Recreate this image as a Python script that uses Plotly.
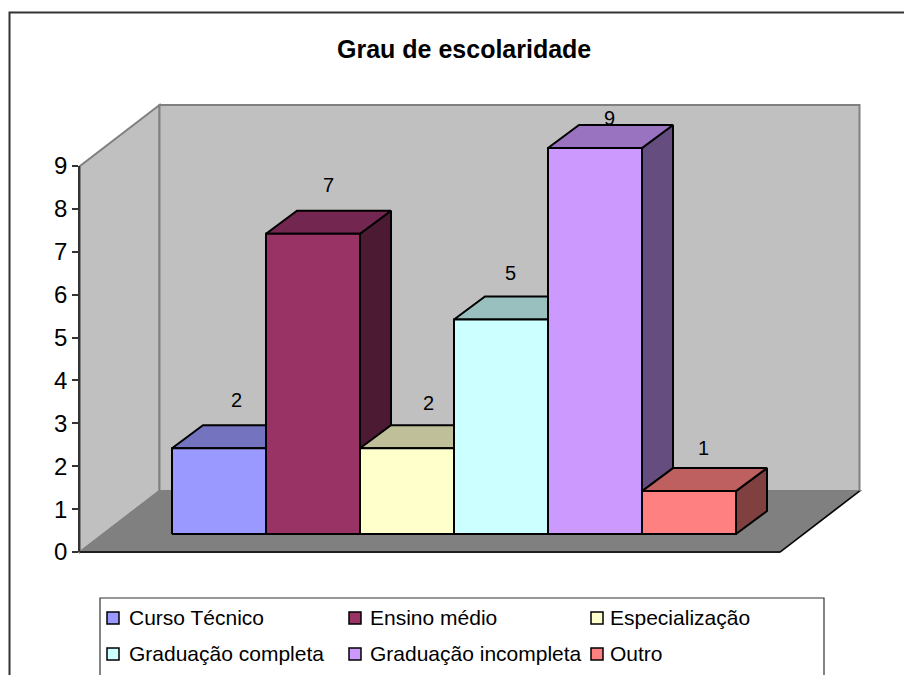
import plotly.graph_objects as go

categories = ["Curso Técnico", "Ensino médio", "Especialização",
              "Graduação completa", "Graduação incompleta", "Outro"]
values = [2, 7, 2, 5, 9, 1]
front_colors = ["#9999FF", "#993366", "#FFFFCC", "#CCFFFF", "#CC99FF", "#FF8080"]
top_colors = ["#7373BF", "#732650", "#BFBF99", "#99BFBF", "#9973BF", "#BF6060"]
side_colors = ["#4D4D80", "#4D1A33", "#80806A", "#668080", "#664D80", "#804040"]
y_ticks = [0, 1, 2, 3, 4, 5, 6, 7, 8, 9]
title_text = "Grau de escolaridade"

W, H = 904, 675
PX_X = 94.0          # pixels per category
PX_Y = 42.89         # pixels per value unit
ZERO_PX = 552.0      # page row of value 0
FIRST_PX = 219.0     # page column of first category centre


def cx(px):
    return (px - FIRST_PX) / PX_X


def vy(py):
    return (ZERO_PX - py) / PX_Y


BASE = 18 / PX_Y     # bars stand in from the floor's front edge
BAR_DX, BAR_DY = 31 / PX_X, 23 / PX_Y
WALL_DX, WALL_DY = 79.5 / PX_X, 61 / PX_Y
FLOOR_L, FLOOR_R = cx(80), cx(780)
TOP = max(y_ticks)
LABEL_SHIFT_X = [17, 15, 21, 9, 14, 14]    # label offset from bar centre, px
LABEL_SHIFT_Y = [48, 49, 45, 47, 30, 43]   # label offset above bar top, px


def poly(pts):
    return "M" + " L".join(f"{x},{y}" for x, y in pts) + " Z"


def wall(pts, fill, line):
    return dict(type="path", path=poly(pts), xref="x", yref="y", layer="below",
                fillcolor=fill, line=dict(color=line, width=2))


shapes = [
    # chart area frame (its right and bottom sides lie beyond the page)
    dict(type="rect", xref="x", yref="y", x0=cx(9.5), x1=cx(950), y0=vy(720), y1=vy(12.5),
         line=dict(color="#333333", width=2), fillcolor="white", layer="below"),
    # left wall, back wall, floor
    wall([(FLOOR_L, 0), (FLOOR_L, TOP), (FLOOR_L + WALL_DX, TOP + WALL_DY), (FLOOR_L + WALL_DX, WALL_DY)],
         "#C0C0C0", "#808080"),
    wall([(FLOOR_L + WALL_DX, WALL_DY), (FLOOR_L + WALL_DX, TOP + WALL_DY),
          (FLOOR_R + WALL_DX, TOP + WALL_DY), (FLOOR_R + WALL_DX, WALL_DY)], "#C0C0C0", "#808080"),
    wall([(FLOOR_L, 0), (FLOOR_R, 0), (FLOOR_R + WALL_DX, WALL_DY), (FLOOR_L + WALL_DX, WALL_DY)],
         "#808080", "#808080"),
    dict(type="line", xref="x", yref="y", x0=FLOOR_L, y0=0, x1=FLOOR_R, y1=0,
         line=dict(color="#000000", width=1.5)),
    dict(type="line", xref="x", yref="y", x0=FLOOR_R, y0=0, x1=FLOOR_R + WALL_DX, y1=WALL_DY,
         line=dict(color="#000000", width=1.5)),
    # legend frame
    dict(type="rect", xref="x", yref="y", x0=cx(100), x1=cx(824), y0=vy(720), y1=vy(598),
         line=dict(color="#333333", width=1.2), fillcolor="white"),
]

fig = go.Figure()


def face(pts, color, name):
    xs = [p[0] for p in pts] + [pts[0][0]]
    ys = [p[1] for p in pts] + [pts[0][1]]
    fig.add_trace(go.Scatter(x=xs, y=ys, mode="lines", fill="toself", fillcolor=color,
                             line=dict(color="#000000", width=2), name=name,
                             showlegend=False, hoverinfo="name"))


annotations = []
for i, (cat, v) in enumerate(zip(categories, values)):
    l, r = i - 0.5, i + 0.5
    b, t = BASE, BASE + v
    face([(r, b), (r + BAR_DX, b + BAR_DY), (r + BAR_DX, t + BAR_DY), (r, t)], side_colors[i], cat)
    face([(l, t), (r, t), (r + BAR_DX, t + BAR_DY), (l + BAR_DX, t + BAR_DY)], top_colors[i], cat)
    face([(l, b), (r, b), (r, t), (l, t)], front_colors[i], cat)
    annotations.append(dict(
        x=i + LABEL_SHIFT_X[i] / PX_X, y=t + LABEL_SHIFT_Y[i] / PX_Y,
        xref="x", yref="y", text=str(v), showarrow=False,
        font=dict(family="Liberation Sans", size=20, color="#000000"),
        xanchor="center", yanchor="middle"))

# invisible trace that carries the visible value axis
fig.add_trace(go.Scatter(x=[None], y=[None], xaxis="x2", yaxis="y2", showlegend=False, hoverinfo="skip"))

# legend drawn with the same styling as the source
legend_swatch = [107, 349, 591]
legend_text = [127, 368, 608]
legend_rows = [618, 654]
for i, cat in enumerate(categories):
    col, row = i % 3, legend_rows[i // 3]
    sx = legend_swatch[col]
    shapes.append(dict(type="rect", xref="x", yref="y",
                       x0=cx(sx), x1=cx(sx + 12), y0=vy(row + 6), y1=vy(row - 6),
                       line=dict(color="#000000", width=1.5), fillcolor=front_colors[i]))
    annotations.append(dict(x=cx(legend_text[col]), y=vy(row - 1), xref="x", yref="y",
                            text=cat, showarrow=False, xanchor="left", yanchor="middle",
                            font=dict(family="Liberation Sans", size=21, color="#000000")))

annotations.append(dict(x=cx(464), y=vy(49), xref="x", yref="y", text=f"<b>{title_text}</b>",
                        showarrow=False, xanchor="center", yanchor="middle",
                        font=dict(family="Liberation Sans", size=25, color="#000000")))

fig.update_layout(
    width=W, height=H, margin=dict(l=0, r=0, t=0, b=0, autoexpand=False),
    paper_bgcolor="white", plot_bgcolor="rgba(0,0,0,0)", showlegend=False,
    shapes=shapes, annotations=annotations,
    xaxis=dict(domain=[0, 1], range=[cx(0), cx(W)], visible=False, automargin=False),
    yaxis=dict(domain=[0, 1], range=[vy(H), vy(0)], visible=False, automargin=False),
    xaxis2=dict(domain=[80 / W, 780 / W], range=[0, 1], visible=False,
                anchor="y2", automargin=False),
    yaxis2=dict(domain=[(H - ZERO_PX) / H, (H - ZERO_PX + TOP * PX_Y) / H], range=[0, TOP],
                anchor="x2", automargin=False, tickmode="array", tickvals=y_ticks,
                ticktext=[str(t) for t in y_ticks],
                showgrid=False, zeroline=False, showline=True, linecolor="#333333", linewidth=1.5,
                ticks="outside", ticklen=6, tickcolor="#333333", tickwidth=1.5,
                tickfont=dict(family="Liberation Sans", size=24, color="#000000")),
)

fig.write_html("out.html", default_width=f"{W}px", default_height=f"{H}px",
               config={"displayModeBar": False},
               post_script="document.body.style.margin='0';document.body.style.overflow='hidden';")
